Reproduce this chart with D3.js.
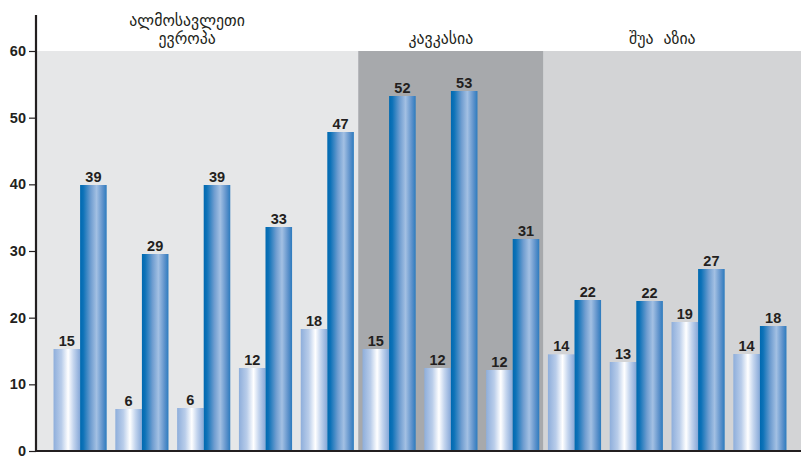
<!DOCTYPE html>
<html><head><meta charset="utf-8">
<script src="https://cdn.jsdelivr.net/npm/d3@7"></script>
<style>
html,body{margin:0;padding:0;background:#fff;}
svg{display:block;}
</style></head>
<body>
<svg id="chart" width="801" height="457"></svg>
<script>
// ---- data ----
const categories = ["p1","p2","p3","p4","p5","p6","p7","p8","p9","p10","p11","p12"];
const lightValues = [15.3, 6.3, 6.45, 12.45, 18.3, 15.3, 12.45, 12.15, 14.5, 13.35, 19.35, 14.55];
const darkValues  = [39.9, 29.55, 39.9, 33.6, 47.85, 53.25, 54.0, 31.8, 22.65, 22.5, 27.3, 18.75];
const lightLabels = ["15","6","6","12","18","15","12","12","14","13","19","14"];
const darkLabels  = ["39","29","39","33","47","52","53","31","22","22","27","18"];
const regionNames = [["ალმოსავლეთი","ევროპა"],["კავკასია"],["შუა აზია"]];
const regionStart = [0, 5, 8];
const regionEnd   = [4, 7, 11];
const regionColors = ["#e6e7e8", "#a7a9ac", "#d3d4d6"];
const yTicks = [0,10,20,30,40,50,60];

// ---- layout ----
const W = 801, H = 457;
const axisX = 36;
const svg = d3.select("#chart");
const x = d3.scaleBand().domain(categories).range([49.2, 790.8]).paddingInner(0.14).paddingOuter(0.07);
const y = d3.scaleLinear().domain([0, 60]).range([451, 51]);
const bw = x.bandwidth() / 2;
const gap = x.step() - x.bandwidth();
const ink = "#231f20";

const defs = svg.append("defs");
const gL = defs.append("linearGradient").attr("id","gLight").attr("x1","0%").attr("x2","100%").attr("y1","0%").attr("y2","0%");
[["0%","#8eaedb"],["30%","#b9cdea"],["55%","#ffffff"],["75%","#c4d5ee"],["100%","#86a8d8"]].forEach(s=>gL.append("stop").attr("offset",s[0]).attr("stop-color",s[1]));
const gD = defs.append("linearGradient").attr("id","gDark").attr("x1","0%").attr("x2","100%").attr("y1","0%").attr("y2","0%");
[["0%","#0069b0"],["12%","#0d72b8"],["40%","#6f9dd0"],["62%","#a3c0e3"],["85%","#5e92cb"],["100%","#2c7bbe"]].forEach(s=>gD.append("stop").attr("offset",s[0]).attr("stop-color",s[1]));

const regions = regionStart.map((s,i)=>{
  const left = i===0 ? axisX : x(categories[s]) - gap/2;
  const right = i===regionStart.length-1 ? W : x(categories[regionEnd[i]]) + x.bandwidth() + gap/2;
  return {left, right, name: regionNames[i], color: regionColors[i]};
});
svg.selectAll("rect.region").data(regions).join("rect")
  .attr("class","region")
  .attr("x", d=>d.left).attr("y", y(60))
  .attr("width", d=>d.right-d.left).attr("height", y(0)-y(60))
  .attr("fill", d=>d.color);

regions.forEach(r=>{
  const cx = (r.left + r.right)/2 - 10;
  const n = r.name.length;
  r.name.forEach((line,j)=>{
    svg.append("text")
      .attr("x", cx).attr("y", 43.5 - (n-1-j)*18)
      .attr("text-anchor","middle")
      .attr("font-family","DejaVu Sans, sans-serif")
      .attr("font-size", 15.8)
      .attr("word-spacing", 5)
      .attr("fill", ink)
      .text(line);
  });
});

const idx = categories.map((c,i)=>i);
svg.selectAll("rect.light").data(idx).join("rect")
  .attr("x", i=>x(categories[i])).attr("width", bw)
  .attr("y", i=>y(lightValues[i])).attr("height", i=>y(0)-y(lightValues[i]))
  .attr("fill","url(#gLight)");
svg.selectAll("rect.dark").data(idx).join("rect")
  .attr("x", i=>x(categories[i])+bw).attr("width", bw)
  .attr("y", i=>y(darkValues[i])).attr("height", i=>y(0)-y(darkValues[i]))
  .attr("fill","url(#gDark)");

const lab = (sel)=>sel.attr("text-anchor","middle")
  .attr("font-family","Liberation Sans, Arial, sans-serif")
  .attr("font-weight","bold").attr("font-size",14.5).attr("fill",ink);
svg.selectAll("text.ll").data(idx).join("text").call(lab)
  .attr("x", i=>x(categories[i])+bw/2).attr("y", i=>y(lightValues[i])-3)
  .text(i=>lightLabels[i]);
svg.selectAll("text.dl").data(idx).join("text").call(lab)
  .attr("x", i=>x(categories[i])+bw*1.5).attr("y", i=>y(darkValues[i])-3)
  .text(i=>darkLabels[i]);

svg.append("line").attr("x1", axisX).attr("x2", W).attr("y1", y(0)).attr("y2", y(0))
  .attr("stroke", ink).attr("stroke-width", 2.2);

const yAxis = d3.axisLeft(y).tickValues(yTicks).tickSize(7).tickPadding(3).tickFormat(d3.format("d"));
const ga = svg.append("g").attr("transform",`translate(${axisX},0)`).call(yAxis);
ga.select(".domain").remove();
ga.selectAll(".tick line").attr("stroke", ink).attr("stroke-width",1.2);
ga.selectAll(".tick text").attr("fill", ink)
  .attr("font-family","Liberation Sans, Arial, sans-serif")
  .attr("font-weight","bold").attr("font-size",14.5);
svg.append("line").attr("x1", axisX).attr("x2", axisX).attr("y1", 15).attr("y2", y(0)+1)
  .attr("stroke", ink).attr("stroke-width", 2.2);
</script>
</body></html>
